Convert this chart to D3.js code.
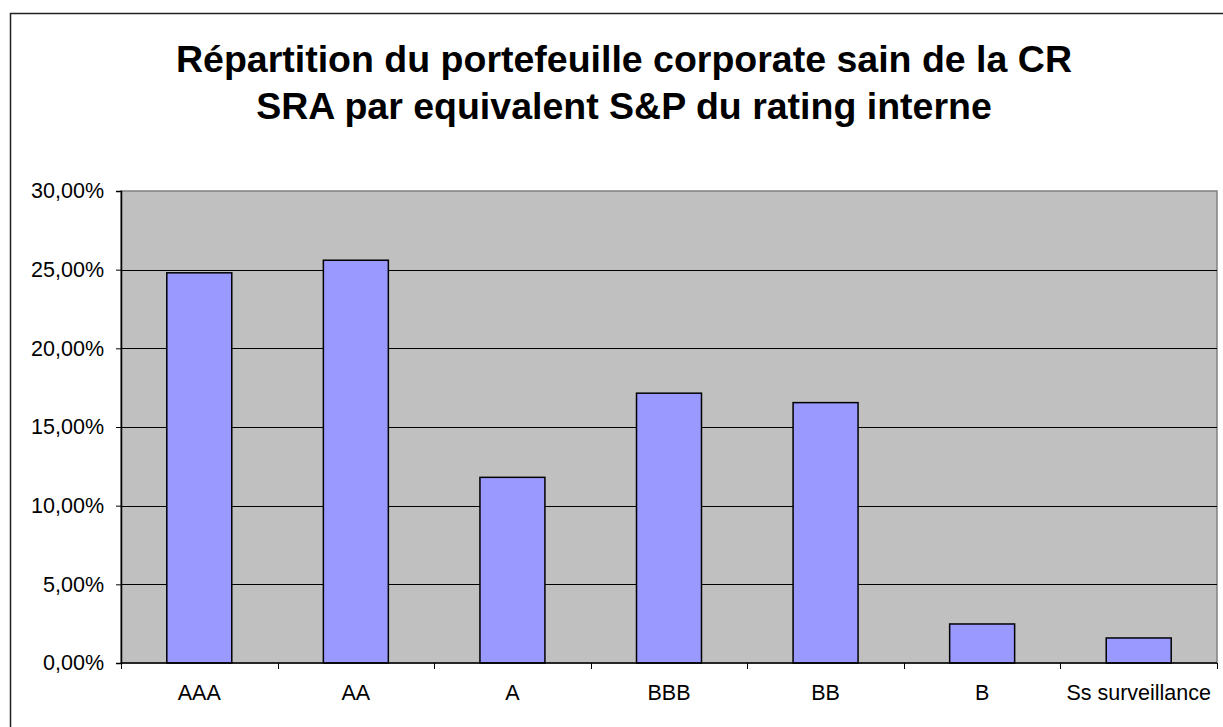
<!DOCTYPE html>
<html>
<head>
<meta charset="utf-8">
<script src="https://cdn.jsdelivr.net/npm/d3@7"></script>
<style>
	body { margin: 0; background: #fff; }
	svg { display: block; font-family: "Liberation Sans", Arial, sans-serif; }
</style>
</head>
<body>
<div id="chart"></div>
<script>

// data
var ratings = ["AAA", "AA", "A", "BBB", "BB", "B", "Ss surveillance"];
var shares = [0.248, 0.256, 0.118, 0.1715, 0.1655, 0.0248, 0.0159];
var yTicks = [0, 0.05, 0.10, 0.15, 0.20, 0.25, 0.30];
var titleLines = ["Répartition du portefeuille corporate sain de la CR",
	"SRA par equivalent S&P du rating interne"];

var W = 1223, H = 727;
var plot = { left: 121, top: 191, right: 1217, bottom: 663 };

var svg = d3.select("#chart").append("svg")
	.attr("width", W)
	.attr("height", H);

// outer chart border (runs past the window on the right and bottom)
svg.append("rect")
	.attr("x", 10.5)
	.attr("y", 13.5)
	.attr("width", W + 20)
	.attr("height", H + 20)
	.attr("fill", "#fff")
	.attr("stroke", "#222")
	.attr("stroke-width", 1.5);

// title
svg.append("text")
	.attr("text-anchor", "middle")
	.attr("font-weight", "bold")
	.attr("font-size", 37.5)
	.selectAll("tspan")
	.data(titleLines)
	.enter()
	.append("tspan")
	.attr("x", 624)
	.attr("y", function(d, i) { return 72 + i * 46.5; })
	.text(function(d) { return d; });

// scales
var xCat = d3.scaleBand()
	.domain(ratings)
	.range([plot.left, plot.right])
	.padding(0);

var xBar = d3.scaleBand()
	.domain(ratings)
	.range([plot.left, plot.right])
	.paddingInner(0.585)
	.paddingOuter(0.2925);

var y = d3.scaleLinear()
	.domain([0, 0.30])
	.range([plot.bottom, plot.top]);

var fr = d3.formatLocale({ decimal: ",", thousands: " ", grouping: [3], currency: ["", " €"] });
var pct = fr.format(".2%");

// plot background
svg.append("rect")
	.attr("x", plot.left)
	.attr("y", plot.top)
	.attr("width", plot.right - plot.left)
	.attr("height", plot.bottom - plot.top)
	.attr("fill", "#c0c0c0")
	.attr("stroke", "#808080")
	.attr("stroke-width", 1.5);

// gridlines
svg.append("g")
	.selectAll("line")
	.data(yTicks.filter(function(d) { return d > 0 && d < 0.30; }))
	.enter()
	.append("line")
	.attr("x1", plot.left)
	.attr("x2", plot.right)
	.attr("y1", function(d) { return Math.round(y(d)) + 0.5; })
	.attr("y2", function(d) { return Math.round(y(d)) + 0.5; })
	.attr("stroke", "#000")
	.attr("stroke-width", 1);

// bars
svg.append("g")
	.selectAll("rect")
	.data(ratings)
	.enter()
	.append("rect")
	.attr("x", function(d) { return xBar(d); })
	.attr("y", function(d, i) { return y(shares[i]); })
	.attr("width", xBar.bandwidth())
	.attr("height", function(d, i) { return y(0) - y(shares[i]); })
	.attr("fill", "#9999ff")
	.attr("stroke", "#000")
	.attr("stroke-width", 1.5);

// y axis
var yAxis = d3.axisLeft(y)
	.tickValues(yTicks)
	.tickFormat(pct)
	.tickSize(5)
	.tickPadding(12);

var gy = svg.append("g")
	.attr("transform", "translate(" + plot.left + ",0)")
	.call(yAxis);
gy.select(".domain").attr("stroke", "#000").attr("stroke-width", 1.5);
gy.selectAll(".tick line").attr("stroke", "#000");
gy.selectAll("text")
	.attr("font-size", 21.5)
	.attr("font-family", "Liberation Sans, Arial, sans-serif")
	.attr("fill", "#000");

// x axis: labels centred in each band, ticks on band edges
var gx = svg.append("g")
	.attr("transform", "translate(0," + plot.bottom + ")");

gx.append("line")
	.attr("x1", plot.left)
	.attr("x2", plot.right)
	.attr("stroke", "#000")
	.attr("stroke-width", 1.5);

var edges = ratings.map(function(d) { return xCat(d); }).concat([plot.right]);
gx.selectAll(".xtick")
	.data(edges)
	.enter()
	.append("line")
	.attr("class", "xtick")
	.attr("x1", function(d) { return Math.round(d) + 0.5; })
	.attr("x2", function(d) { return Math.round(d) + 0.5; })
	.attr("y1", 0)
	.attr("y2", 6)
	.attr("stroke", "#000");

gx.selectAll(".xlabel")
	.data(ratings)
	.enter()
	.append("text")
	.attr("class", "xlabel")
	.attr("x", function(d) { return xCat(d) + xCat.bandwidth() / 2; })
	.attr("y", 37)
	.attr("text-anchor", "middle")
	.attr("font-size", 21.5)
	.attr("fill", "#000")
	.text(function(d) { return d; });

</script>
</body>
</html>
